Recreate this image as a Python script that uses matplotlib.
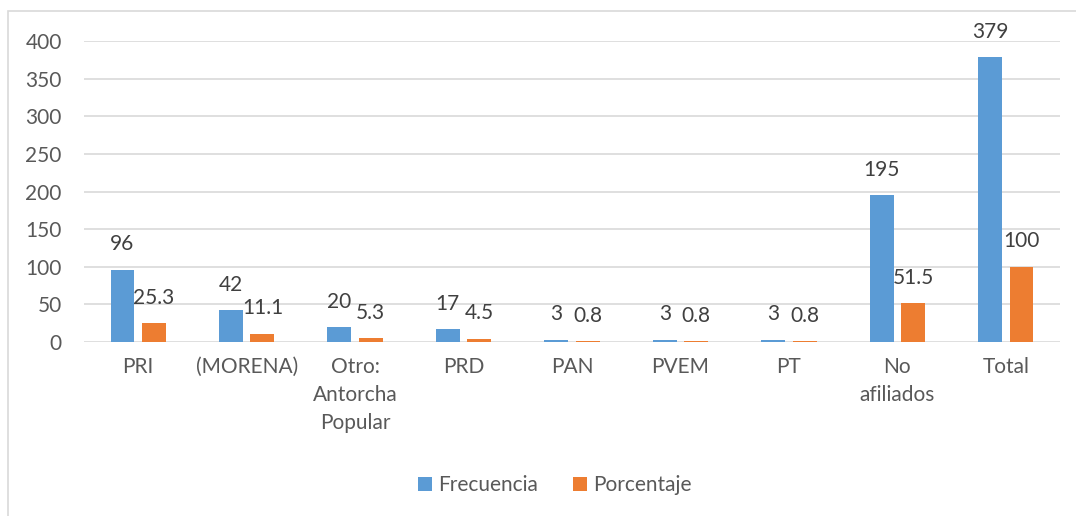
import numpy as np
import matplotlib.pyplot as plt
from matplotlib.patches import Rectangle

categorias = ['PRI', '(MORENA)', 'Otro:\nAntorcha\nPopular', 'PRD', 'PAN', 'PVEM', 'PT', 'No\nafiliados', 'Total']
frecuencia = [96, 42, 20, 17, 3, 3, 3, 195, 379]
porcentaje = [25.3, 11.1, 5.3, 4.5, 0.8, 0.8, 0.8, 51.5, 100]
etiq_frec = ['96', '42', '20', '17', '3', '3', '3', '195', '379']
etiq_porc = ['25.3', '11.1', '5.3', '4.5', '0.8', '0.8', '0.8', '51.5', '100']

azul = '#5B9BD5'
naranja = '#ED7D31'
gris = '#595959'
fs = 15

plt.rcParams['font.family'] = ['Lato', 'DejaVu Sans']

fig = plt.figure(figsize=(10.76, 5.16), dpi=100)
W, H = 1076, 516
# marco del gráfico (estilo Excel)
fig.patches.append(Rectangle((8 / W, -0.1), 1.2, (516 - 11) / H + 0.1, transform=fig.transFigure,
                             fill=False, edgecolor='#D9D9D9', linewidth=1.2))

ax = fig.add_axes([84 / W, 1 - 342 / H, (1060 - 84) / W, (342 - 41) / H])

x = np.arange(len(categorias))
ancho = 0.22
sep = 0.035
b1 = ax.bar(x - ancho / 2 - sep, frecuencia, ancho, color=azul, label='Frecuencia', zorder=3)
b2 = ax.bar(x + ancho / 2 + sep, porcentaje, ancho, color=naranja, label='Porcentaje', zorder=3)

for xi, v, t in zip(x - ancho / 2 - sep, frecuencia, etiq_frec):
    ax.annotate(t, (xi, v), xytext=(0, 11), textcoords='offset points', ha='center', va='bottom',
                fontsize=fs, color='#404040')
for xi, v, t in zip(x + ancho / 2 + sep, porcentaje, etiq_porc):
    ax.annotate(t, (xi, v), xytext=(0, 11), textcoords='offset points', ha='center', va='bottom',
                fontsize=fs, color='#404040')

ax.set_xlim(-0.5, len(categorias) - 0.5)
ax.set_ylim(0, 400)
ax.set_yticks(range(0, 401, 50))
ax.set_xticks(x)
ax.set_xticklabels(categorias, linespacing=1.5, va='top')
ax.tick_params(axis='both', length=0, labelsize=fs, labelcolor=gris)
ax.tick_params(axis='y', pad=16)
ax.tick_params(axis='x', pad=11)
ax.yaxis.grid(True, color='#D9D9D9', linewidth=1.2, zorder=0)
for s in ax.spines.values():
    s.set_visible(False)

leg = fig.legend(handles=[b1, b2], loc='center', bbox_to_anchor=(555 / W, 1 - 485 / H), ncol=2,
                 frameon=False, fontsize=fs, handlelength=0.65, handleheight=0.65,
                 handletextpad=0.3, columnspacing=1.7)
for t in leg.get_texts():
    t.set_color(gris)

fig.savefig('out.png', dpi=100)
